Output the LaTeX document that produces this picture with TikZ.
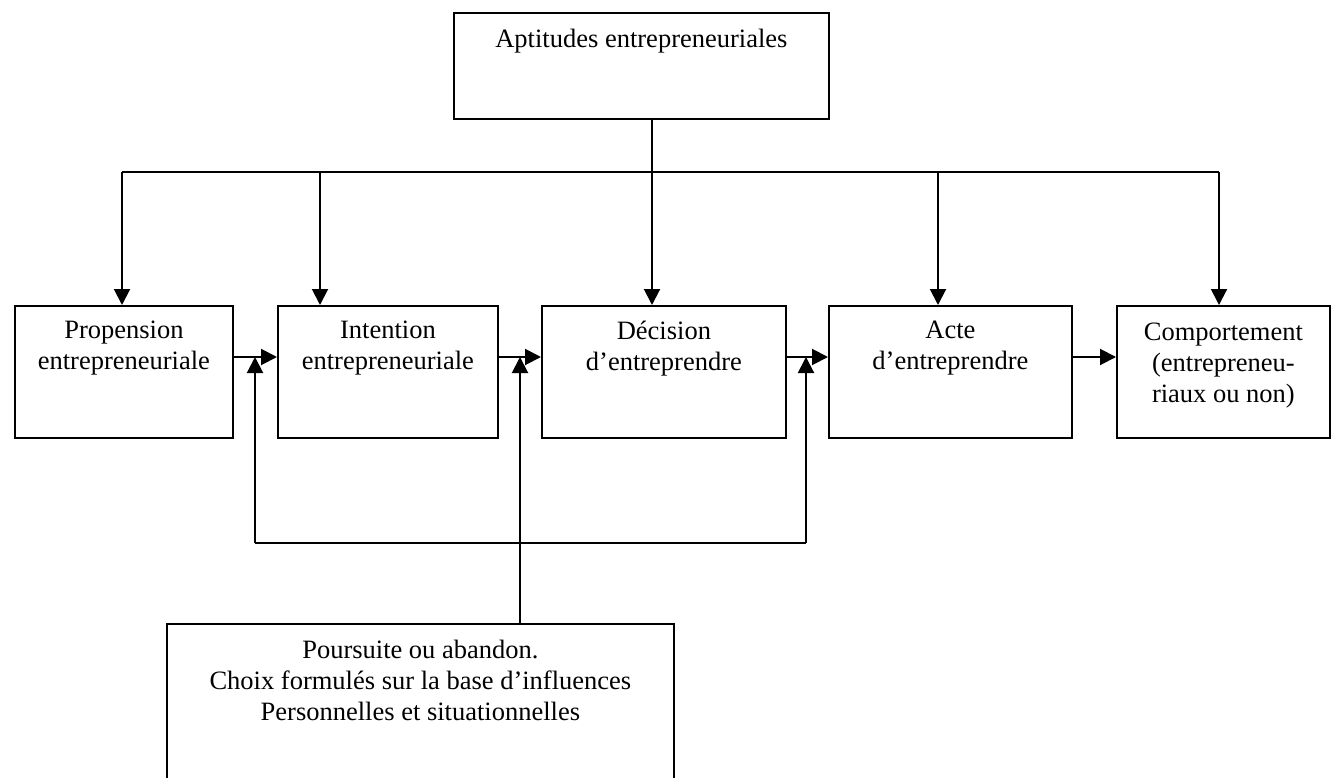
\documentclass[tikz,border=0pt]{standalone}
\usepackage{fontspec}
\setmainfont{Liberation Serif}
\usetikzlibrary{arrows.meta}
\begin{document}
\begin{tikzpicture}[x=1pt,y=-1pt,
  frame/.style={draw, line width=1.8pt, rectangle, inner sep=0pt, anchor=north west},
  boxtext/.style={anchor=north, align=center, inner sep=0pt,
                  font=\fontsize{26.5}{31}\selectfont},
  wire/.style={line width=2pt},
  arr/.style={wire, -{Triangle[length=16pt,width=16pt]}}]
\useasboundingbox (0,0) rectangle (1343,778);
\clip (0,0) rectangle (1343,778);

% boxes
\node[frame, minimum width=375pt, minimum height=106pt] (top) at (453,12) {};
\node[frame, minimum width=218pt, minimum height=132pt] (b1) at (14,305) {};
\node[frame, minimum width=220pt, minimum height=132pt] (b2) at (277,305) {};
\node[frame, minimum width=244pt, minimum height=132pt] (b3) at (541,305) {};
\node[frame, minimum width=243pt, minimum height=132pt] (b4) at (828,305) {};
\node[frame, minimum width=213pt, minimum height=132pt] (b5) at (1116,305) {};
\node[frame, minimum width=507pt, minimum height=175pt] (bot) at (166,623) {};

% texts, set at the top of each box
\node[boxtext] (ttop) at ([yshift=-17pt]top.north) {Aptitudes entrepreneuriales};
\node[boxtext] (t1) at ([yshift=-16pt]b1.north) {Propension\\entrepreneuriale};
\node[boxtext] (t2) at ([yshift=-16pt]b2.north) {Intention\\entrepreneuriale};
\node[boxtext] (t3) at ([yshift=-16pt]b3.north) {Décision\\d’entreprendre};
\node[boxtext] (t4) at ([yshift=-16pt]b4.north) {Acte\\d’entreprendre};
\node[boxtext] (t5) at ([yshift=-18pt]b5.north) {Comportement\\(entrepreneu-\\riaux ou non)};
\node[boxtext] (tbot) at ([yshift=-17pt]bot.north) {Poursuite ou abandon.\\Choix formulés sur la base d’influences\\Personnelles et situationnelles};

% distribution bus from the top box
\coordinate (bus) at (652,172);
\coordinate (busL) at (122,172);
\coordinate (d2) at (320,172);
\coordinate (d4) at (938,172);
\coordinate (busR) at (1219,172);
\draw[wire] (top.south -| bus) -- (bus);
\draw[wire] (busL) -- (busR);
\draw[arr] (busL) -- (busL |- b1.north);
\draw[arr] (d2) -- (d2 |- b2.north);
\draw[arr] (bus) -- (bus |- b3.north);
\draw[arr] (d4) -- (d4 |- b4.north);
\draw[arr] (busR) -- (busR |- b5.north);

% main chain
\coordinate (row) at (0,357);
\draw[arr] (b1.east |- row) -- (b2.west |- row);
\draw[arr] (b2.east |- row) -- (b3.west |- row);
\draw[arr] (b3.east |- row) -- (b4.west |- row);
\draw[arr] (b4.east |- row) -- (b5.west |- row);

% feedback loop
\coordinate (loopL) at (255,543);
\coordinate (loopR) at (806,543);
\coordinate (fx) at (520,543);
\draw[wire] (loopL) -- (loopR);
\draw[arr] (loopL) -- (loopL |- row);
\draw[arr] (loopR) -- (loopR |- row);
\draw[arr] (bot.north -| fx) -- (fx |- row);
\end{tikzpicture}
\end{document}
